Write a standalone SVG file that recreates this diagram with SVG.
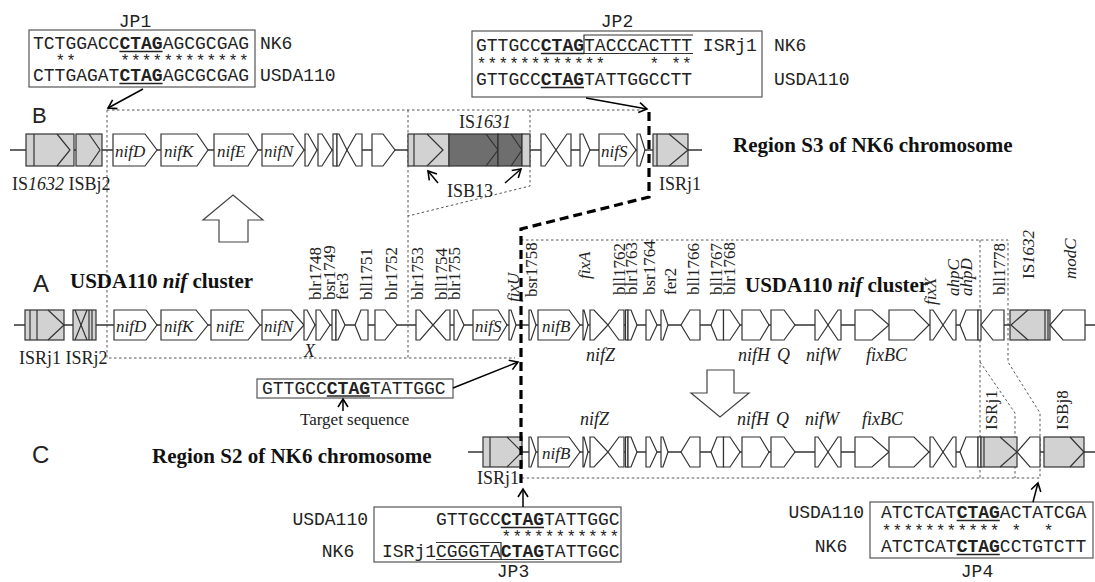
<svg xmlns="http://www.w3.org/2000/svg" xmlns:xlink="http://www.w3.org/1999/xlink" width="1095" height="582" viewBox="0 0 1095 582">
<style>
.g{fill:#fff;stroke:#333;stroke-width:1.2}
.gr{fill:#d2d2d2;stroke:#333;stroke-width:1.2}
.dk{fill:#6e6e6e;stroke:#333;stroke-width:1.2}
.il{fill:none;stroke:#333;stroke-width:1.2}
.ln{stroke:#333;stroke-width:1.6;fill:none}
.dot{stroke:#555;stroke-width:1;stroke-dasharray:2.5 2.5;fill:none}
.heavy{stroke:#000;stroke-width:3.2;stroke-dasharray:9 5;fill:none}
.arr{stroke:#000;stroke-width:1.5;fill:none;marker-end:url(#ah)}
.mono{font-family:"Liberation Mono",monospace;font-size:18px;fill:#222}
.st{font-family:"Liberation Mono",monospace;font-size:16px;letter-spacing:1.2px;fill:#222}
.b{font-weight:bold}
.ser{font-family:"Liberation Serif",serif;fill:#222}
.lab{font-family:"Liberation Serif",serif;font-size:18px;fill:#222}
.vl{font-family:"Liberation Serif",serif;font-size:17px;fill:#222}
.gi{font-family:"Liberation Serif",serif;font-size:17px;font-style:italic;fill:#222}
.it{font-style:italic}
.big{font-family:"Liberation Serif",serif;font-size:21px;font-weight:bold;fill:#111}
.let{font-family:"Liberation Sans",Arial,sans-serif;fill:#222}
.box{fill:#fff;stroke:#555;stroke-width:1.2}
.ul{stroke:#222;stroke-width:1.3}
.hol{fill:#fff;stroke:#444;stroke-width:1.2}
</style>
<defs>
<marker id="ah" markerWidth="12" markerHeight="12" refX="9" refY="6" orient="auto" markerUnits="userSpaceOnUse">
<path d="M1,1 L9,6 L1,11" fill="none" stroke="#000" stroke-width="1.6"/>
</marker>
</defs>

<!-- JP1 -->
<g id="jp1">
<text class="mono" x="135" y="27" text-anchor="middle">JP1</text>
<rect class="box" x="29" y="30" width="226" height="57"/>
<text class="mono" x="33" y="49">TCTGGACC<tspan class="b">CTAG</tspan>AGCGCGAG</text>
<line class="ul" x1="119.4" y1="51.5" x2="162.6" y2="51.5"/>
<text class="st" x="55.4" y="66">**</text>
<text class="st" x="120.2" y="66">************</text>
<text class="mono" x="33" y="81">CTTGAGAT<tspan class="b">CTAG</tspan>AGCGCGAG</text>
<line class="ul" x1="119.4" y1="83.5" x2="162.6" y2="83.5"/>
<text class="mono" x="260" y="49">NK6</text>
<text class="mono" x="260" y="81">USDA110</text>
</g>

<!-- JP2 -->
<g id="jp2">
<text class="mono" x="617" y="27" text-anchor="middle">JP2</text>
<rect class="box" x="472" y="31" width="290" height="66"/>
<path class="il" d="M693,35 H584 V53.5 H693"/>
<text class="mono" x="476" y="51">GTTGCC<tspan class="b">CTAG</tspan>TACCCACTTT ISRj1</text>
<line class="ul" x1="540.8" y1="53.5" x2="584" y2="53.5"/>
<text class="st" x="476.8" y="69">************</text>
<text class="st" x="649.6" y="69">*</text>
<text class="st" x="671.2" y="69">**</text>
<text class="mono" x="476" y="85">GTTGCC<tspan class="b">CTAG</tspan>TATTGGCCTT</text>
<line class="ul" x1="540.8" y1="87.5" x2="584" y2="87.5"/>
<text class="mono" x="774" y="51">NK6</text>
<text class="mono" x="774" y="85">USDA110</text>
</g>

<!-- dotted region outlines -->
<g id="regions">
<path class="dot" d="M107,110 H647"/>
<path class="dot" d="M107,110 V358 H515"/>
<path class="dot" d="M408,110 V358"/>
<path class="dot" d="M530,110 V186 L408,216"/>
<path class="dot" d="M521,240 H1008 V362 L1040,413 V478 H521"/>
<path class="dot" d="M980,240 V478"/>
<path class="dot" d="M980,362 L1015,413 V478"/>
</g>

<!-- Row B -->
<g id="rowB">
<text class="let" x="32" y="123" font-size="22">B</text>
<line class="ln" x1="10" y1="150" x2="702" y2="150"/>
<g id="B-IS1632"><rect class="gr" x="26" y="134" width="48" height="32"/><line class="il" x1="34" y1="134" x2="34" y2="166"/><polyline class="il" points="57,134 70,150 57,166"/></g>
<g id="B-ISBj2"><rect class="gr" x="76" y="134" width="26" height="32"/><polyline class="il" points="89,134 100,150 89,166"/></g>
<g id="B-nif">
<polygon class="g" points="113,134 145,134 157,150 145,166 113,166"/>
<polygon class="g" points="161,134 197,134 208,150 197,166 161,166"/>
<polygon class="g" points="214,134 248,134 258,150 248,166 214,166"/>
<polygon class="g" points="262,134 293,134 304,150 293,166 262,166"/>
<polygon class="g" points="305,134 308,134 317,150 308,166 305,166"/>
<polygon class="g" points="318,134 322,134 332,150 322,166 318,166"/>
<rect class="g" x="333" y="134" width="4" height="32"/>
<polygon class="g" points="337,134 339,134 347,150 339,166 337,166"/>
<polygon class="g" points="362,134 356,134 347,150 356,166 362,166"/>
<polygon class="g" points="372,134 383,134 395,150 383,166 372,166"/>
<text class="gi" x="115" y="157">nifD</text>
<text class="gi" x="164" y="157">nifK</text>
<text class="gi" x="217" y="157">nifE</text>
<text class="gi" x="264" y="157">nifN</text>
</g>
<g id="B-IS1631">
<rect class="gr" x="408" y="134" width="41" height="32"/><line class="il" x1="414" y1="134" x2="414" y2="166"/><polyline class="il" points="427,134 443,150 427,166"/>
<rect class="dk" x="449" y="134" width="49" height="32"/><polyline class="il" points="486,134 498,150 486,166"/>
<rect class="dk" x="498" y="134" width="24" height="32"/><polyline class="il" points="511,134 522,150 511,166"/>
<rect class="gr" x="522" y="134" width="8" height="32"/>
</g>
<g id="B-right">
<polygon class="g" points="541,134 545,134 556,150 545,166 541,166"/>
<polygon class="g" points="571,134 567,134 556,150 567,166 571,166"/>
<polygon class="g" points="580,134 583,134 590,150 583,166 580,166"/>
<polygon class="g" points="599,134 624,134 636,150 624,166 599,166"/>
<polygon class="g" points="637,134 640,134 645,150 640,166 637,166"/>
<text class="gi" x="601" y="157">nifS</text>
</g>
<g id="B-ISRj1"><rect class="gr" x="653" y="134" width="35" height="32"/><line class="il" x1="657" y1="134" x2="657" y2="166"/><polyline class="il" points="669,134 688,150 669,166"/></g>
<text class="lab" x="12" y="190">IS<tspan class="it">1632</tspan> ISBj2</text>
<text class="lab" x="485" y="128" text-anchor="middle">IS<tspan class="it">1631</tspan></text>
<text class="lab" x="447" y="197">ISB13</text>
<text class="lab" x="659" y="190">ISRj1</text>
<text class="big" x="733" y="152">Region S3 of NK6 chromosome</text>
</g>

<!-- Up hollow arrow -->
<polygon id="uparrow" class="hol" points="233,195 263,220 248,220 248,242 219,242 219,220 203,220"/>

<!-- Row A -->
<g id="rowA">
<text class="let" x="33" y="292" font-size="24">A</text>
<text class="big" x="70" y="288">USDA110 <tspan class="it">nif</tspan> cluster</text>
<text class="big" x="745" y="292">USDA110 <tspan class="it">nif</tspan> cluster</text>
<line class="ln" x1="14" y1="325" x2="1095" y2="325"/>
<g id="A-ISRj1"><rect class="gr" x="25" y="310" width="39" height="30"/><line class="il" x1="30" y1="310" x2="30" y2="340"/><line class="il" x1="37" y1="310" x2="37" y2="340"/><polyline class="il" points="48,310 64,325 48,340"/></g>
<g id="A-ISRj2"><rect class="gr" x="73" y="310" width="23" height="30"/><polyline class="il" points="75,310 81,325 75,340"/><polyline class="il" points="87,310 81,325 87,340"/><line class="il" x1="89" y1="310" x2="89" y2="340"/><line class="il" x1="92" y1="310" x2="92" y2="340"/></g>
<g id="A-left">
<polygon class="g" points="114,310 146,310 157,325 146,340 114,340"/>
<polygon class="g" points="161,310 196,310 208,325 196,340 161,340"/>
<polygon class="g" points="211,310 248,310 260,325 248,340 211,340"/>
<polygon class="g" points="262,310 291,310 304,325 291,340 262,340"/>
<polygon class="g" points="304,310 307,310 315,325 307,340 304,340"/>
<polygon class="g" points="316,310 320,310 330,325 320,340 316,340"/>
<rect class="g" x="332" y="310" width="4" height="30"/>
<polygon class="g" points="336,310 338,310 345,325 338,340 336,340"/>
<polygon class="g" points="368,310 361,310 355,325 361,340 368,340"/>
<polygon class="g" points="375,310 385,310 397,325 385,340 375,340"/>
<polygon class="g" points="416,310 420,310 433,325 420,340 416,340"/>
<polygon class="g" points="450,310 446,310 433,325 446,340 450,340"/>
<polygon class="g" points="454,310 457,310 464,325 457,340 454,340"/>
<polygon class="g" points="473,310 498,310 507,325 498,340 473,340"/>
<polygon class="g" points="509,310 511,310 516,325 511,340 509,340"/>
<text class="gi" x="116" y="332">nifD</text>
<text class="gi" x="164" y="332">nifK</text>
<text class="gi" x="216" y="332">nifE</text>
<text class="gi" x="264" y="332">nifN</text>
<text class="gi" x="475" y="332">nifS</text>
</g>
<g id="coreA">
<polygon class="g" points="529,310 531,310 536,325 531,340 529,340"/>
<polygon class="g" points="538,310 569,310 580,325 569,340 538,340"/>
<polygon class="g" points="583,310 584,310 588,325 584,340 583,340"/>
<polygon class="g" points="590,310 594,310 608,325 594,340 590,340"/>
<polygon class="g" points="624,310 619,310 608,325 619,340 624,340"/>
<rect class="g" x="625.5" y="310" width="2.5" height="30"/>
<polygon class="g" points="628,310 631,310 637,325 631,340 628,340"/>
<polygon class="g" points="646,310 650,310 657,325 650,340 646,340"/>
<polygon class="g" points="661,310 663,310 668,325 663,340 661,340"/>
<polygon class="g" points="700,310 690,310 681,325 690,340 700,340"/>
<polygon class="g" points="723.5,310 717,310 711,325 717,340 723.5,340"/>
<polygon class="g" points="723.5,310 730,310 740,325 730,340 723.5,340"/>
<polygon class="g" points="742,310 760,310 769,325 760,340 742,340"/>
<polygon class="g" points="771,310 784,310 795,325 784,340 771,340"/>
<polygon class="g" points="815,310 818,310 828,325 818,340 815,340"/>
<polygon class="g" points="841,310 838,310 828,325 838,340 841,340"/>
<polygon class="g" points="855,310 872,310 889,325 872,340 855,340"/>
<polygon class="g" points="889,310 914,310 929,325 914,340 889,340"/>
<polygon class="g" points="930,310 933,310 943,325 933,340 930,340"/>
<polygon class="g" points="956,310 953,310 943,325 953,340 956,340"/>
<polygon class="g" points="978,310 966,310 960,325 966,340 978,340"/>
<rect class="g" x="978" y="310" width="3" height="30"/>
<text class="gi" x="542" y="332">nifB</text>
</g>
<g id="A-bll1778"><polygon class="g" points="1004,310 993,310 981,325 993,340 1004,340"/></g>
<g id="A-IS1632"><rect class="gr" x="1010" y="310" width="40" height="30"/><polyline class="il" points="1028,310 1011,325 1028,340"/><line class="il" x1="1045" y1="310" x2="1045" y2="340"/><line class="il" x1="1048" y1="310" x2="1048" y2="340"/></g>
<g id="A-modC"><polygon class="g" points="1085,310 1063,310 1050,325 1063,340 1085,340"/></g>
<text class="lab" x="19" y="364">ISRj1 ISRj2</text>
<text class="lab it" x="304" y="357">X</text>
<text class="lab it" x="586" y="361">nifZ</text>
<text class="lab it" x="738" y="361">nifH</text>
<text class="lab it" x="777" y="361">Q</text>
<text class="lab it" x="806" y="361">nifW</text>
<text class="lab it" x="866" y="361">fixBC</text>
<g id="A-vlabels">
<text class="vl" transform="translate(321,300) rotate(-90)">blr1748</text>
<text class="vl" transform="translate(335,300) rotate(-90)">bsr1749</text>
<text class="vl" transform="translate(348,300) rotate(-90)">fer3</text>
<text class="vl" transform="translate(372,300) rotate(-90)">bll1751</text>
<text class="vl" transform="translate(397,300) rotate(-90)">blr1752</text>
<text class="vl" transform="translate(423,300) rotate(-90)">blr1753</text>
<text class="vl" transform="translate(447,300) rotate(-90)">bll1754</text>
<text class="vl" transform="translate(460,300) rotate(-90)">blr1755</text>
<text class="vl it" transform="translate(519,302) rotate(-90)">fixU</text>
<text class="vl" transform="translate(537,297) rotate(-90)">bsr1758</text>
<text class="vl it" transform="translate(590,279) rotate(-90)">fixA</text>
<text class="vl" transform="translate(625,295) rotate(-90)">bll1762</text>
<text class="vl" transform="translate(637,295) rotate(-90)">blr1763</text>
<text class="vl" transform="translate(655,295) rotate(-90)">bsr1764</text>
<text class="vl" transform="translate(676,295) rotate(-90)">fer2</text>
<text class="vl" transform="translate(699,295) rotate(-90)">bll1766</text>
<text class="vl" transform="translate(722,295) rotate(-90)">bll1767</text>
<text class="vl" transform="translate(735,295) rotate(-90)">blr1768</text>
<text class="vl it" transform="translate(936,305) rotate(-90)">fixX</text>
<text class="vl it" transform="translate(959,296) rotate(-90)">ahpC</text>
<text class="vl it" transform="translate(972,296) rotate(-90)">ahpD</text>
<text class="vl" transform="translate(1005,295) rotate(-90)">bll1778</text>
<text class="vl" transform="translate(1034,279) rotate(-90)">IS<tspan class="it">1632</tspan></text>
<text class="vl it" transform="translate(1076,279) rotate(-90)">modC</text>
</g>
</g>

<!-- Down hollow arrow -->
<polygon id="downarrow" class="hol" points="707,370 734,370 734,393 749,393 720,417 691,393 707,393"/>

<!-- Target sequence -->
<g id="target">
<rect class="box" x="257" y="379" width="196" height="19"/>
<text class="mono" x="262" y="394">GTTGCC<tspan class="b">CTAG</tspan>TATTGGC</text>
<line class="ul" x1="326.8" y1="396" x2="370" y2="396"/>
<text class="ser" x="300" y="425" font-size="17">Target sequence</text>
</g>

<!-- Row C -->
<g id="rowC">
<text class="let" x="32" y="463" font-size="24">C</text>
<text class="big" x="152" y="463">Region S2 of NK6 chromosome</text>
<line class="ln" x1="468" y1="452" x2="1095" y2="452"/>
<g id="C-ISRj1a"><rect class="gr" x="483" y="437" width="39" height="30"/><line class="il" x1="490" y1="437" x2="490" y2="467"/><polyline class="il" points="507,437 522,452 507,467"/></g>
<use href="#coreA" xlink:href="#coreA" transform="translate(0,127)"/>
<g id="C-ISRj1b"><rect class="gr" x="981" y="437" width="36" height="30"/><line class="il" x1="984" y1="437" x2="984" y2="467"/><polyline class="il" points="1000,437 1017,452 1000,467"/></g>
<g id="C-bll1778"><polygon class="g" points="1040,437 1030,437 1017,452 1030,467 1040,467"/></g>
<g id="C-ISBj8"><rect class="gr" x="1044" y="437" width="40" height="30"/><polyline class="il" points="1070,437 1084,452 1070,467"/></g>
<text class="lab it" x="580" y="425">nifZ</text>
<text class="lab it" x="737" y="425">nifH</text>
<text class="lab it" x="776" y="425">Q</text>
<text class="lab it" x="805" y="425">nifW</text>
<text class="lab it" x="862" y="425">fixBC</text>
<text class="vl" transform="translate(997,430) rotate(-90)">ISRj1</text>
<text class="vl" transform="translate(1068,430) rotate(-90)">ISBj8</text>
<text class="lab" x="477" y="484">ISRj1</text>
</g>

<!-- JP3 -->
<g id="jp3">
<rect class="box" x="374" y="507" width="247" height="55"/>
<text class="mono" x="368" y="525" text-anchor="end">USDA110</text>
<text class="mono" x="338" y="557" text-anchor="middle">NK6</text>
<text class="mono" x="436" y="525">GTTGCC<tspan class="b">CTAG</tspan>TATTGGC</text>
<line class="ul" x1="500.8" y1="527.5" x2="544" y2="527.5"/>
<text class="st" x="501.6" y="542">***********</text>
<text class="mono" x="382" y="557">ISRj1CGGGTA<tspan class="b">CTAG</tspan>TATTGGC</text>
<path class="il" d="M436,542.5 H501 V559.5 M436,559.5 H544"/>
<text class="mono" x="513" y="577" text-anchor="middle">JP3</text>
</g>

<!-- JP4 -->
<g id="jp4">
<rect class="box" x="870" y="502" width="223" height="56"/>
<text class="mono" x="864" y="518" text-anchor="end">USDA110</text>
<text class="mono" x="831" y="552" text-anchor="middle">NK6</text>
<text class="mono" x="881" y="518">ATCTCAT<tspan class="b">CTAG</tspan>ACTATCGA</text>
<line class="ul" x1="956.6" y1="520.5" x2="999.8" y2="520.5"/>
<text class="st" x="881.8" y="536">***********</text>
<text class="st" x="1011.4" y="536">*</text>
<text class="st" x="1043.8" y="536">*</text>
<text class="mono" x="881" y="552">ATCTCAT<tspan class="b">CTAG</tspan>CCTGTCTT</text>
<line class="ul" x1="956.6" y1="554.5" x2="999.8" y2="554.5"/>
<text class="mono" x="977" y="577" text-anchor="middle">JP4</text>
</g>

<!-- connectors -->
<g id="connectors">
<path class="heavy" d="M649,112 V197 L521,229 V487"/>
<line class="arr" x1="143" y1="89" x2="108" y2="108"/>
<line class="arr" x1="586" y1="98" x2="647" y2="109"/>
<line class="arr" x1="453" y1="388" x2="518" y2="362"/>
<line class="arr" x1="343" y1="411" x2="343" y2="399" stroke-width="2"/>
<line class="arr" x1="438" y1="183" x2="428" y2="171"/>
<line class="arr" x1="505" y1="183" x2="521" y2="169"/>
<line class="arr" x1="523" y1="507" x2="523" y2="489"/>
<line class="arr" x1="1033" y1="502" x2="1038" y2="483"/>
</g>
</svg>
